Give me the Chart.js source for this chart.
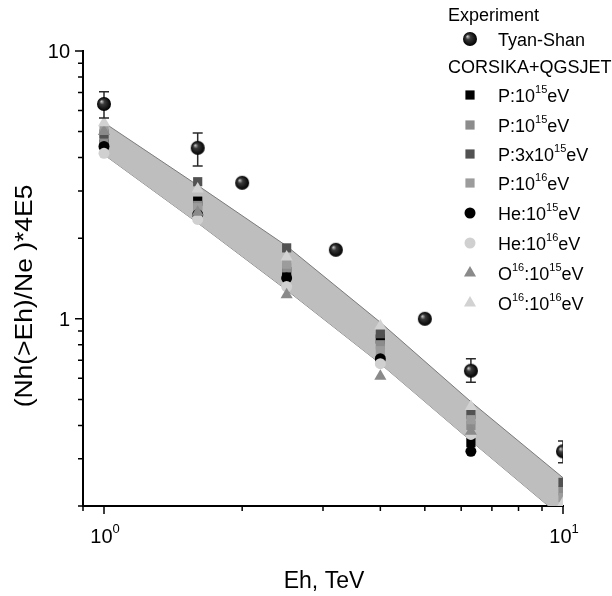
<!DOCTYPE html>
<html>
<head>
<meta charset="utf-8">
<script src="https://cdn.jsdelivr.net/npm/chart.js@4.4.1/dist/chart.umd.min.js"></script>
<style>
  html, body { margin: 0; padding: 0; background: #fff; }
  #wrap { position: relative; width: 612px; height: 596px; }
</style>
</head>
<body>
<div id="wrap"><canvas id="chart"></canvas></div>
<script>
// hadron energy thresholds of the simulation runs, TeV
const simEh = [1, 1.6, 2.5, 4, 6.3, 10];

// Tyan-Shan experiment
const expEh = [1, 1.6, 2, 3.2, 5, 6.3, 10];
const expRatio = [6.34, 4.35, 3.22, 1.81, 1.0, 0.64, 0.32];
const expErrLo = [5.62, 3.72, null, null, null, 0.58, 0.29];
const expErrHi = [7.05, 4.94, null, null, null, 0.71, 0.35];

// CORSIKA+QGSJET
const p15a = [4.5, 2.75, 1.5, 0.84, 0.345, 0.19];
const p15b = [4.7, 2.65, 1.55, 0.80, 0.40, 0.228];
const p3x15 = [4.9, 3.25, 1.84, 0.88, 0.44, 0.245];
const p16 = [5.1, 2.6, 1.6, 0.76, 0.42, 0.215];
const he15 = [4.4, 2.45, 1.42, 0.71, 0.32, 0.18];
const he16 = [4.15, 2.35, 1.32, 0.68, 0.37, 0.19];
const o15 = [5.0, 2.5, 1.23, 0.61, 0.38, 0.17];
const o16 = [5.4, 3.05, 1.70, 0.94, 0.47, 0.205];

// shaded band
const bandUpper = [5.4, 3.15, 1.87, 0.97, 0.49, 0.255];
const bandLower = [4.1, 2.28, 1.28, 0.68, 0.35, 0.18];

// axes
const xMinorTicks = [0.9, 2, 3, 4, 5, 6, 7, 8, 9];
const xMajorTicks = [1, 10];
const xMajorExp = ['0', '1'];
const yMinorTicks = [0.2, 0.3, 0.4, 0.5, 0.6, 0.7, 0.8, 0.9, 2, 3, 4, 5, 6, 7, 8, 9];
const yMajorTicks = [1, 10];
const yMajorLabels = ['1', '10'];

const FONT = '"Liberation Sans", Arial, sans-serif';

function makeSphere(r) {
  const c = document.createElement('canvas');
  const s = Math.ceil(r * 2) + 2;
  c.width = c.height = s;
  const g = c.getContext('2d');
  const cx = s / 2, cy = s / 2;
  const grad = g.createRadialGradient(cx - r * 0.4, cy - r * 0.4, 0, cx, cy, r);
  grad.addColorStop(0, '#d8d8d8');
  grad.addColorStop(0.35, '#3a3a3a');
  grad.addColorStop(1, '#000');
  g.fillStyle = grad;
  g.beginPath();
  g.arc(cx, cy, r, 0, Math.PI * 2);
  g.fill();
  return c;
}
const sphere = makeSphere(7);

function simSet(label, values, color, style, radius) {
  return {
    label,
    data: simEh.map((x, i) => ({ x, y: values[i] })),
    showLine: false,
    pointStyle: style,
    pointRadius: radius,
    pointHoverRadius: radius,
    pointBackgroundColor: color,
    pointBorderWidth: 0,
    clip: 0
  };
}

const datasets = [
  {
    label: 'Tyan-Shan',
    data: expEh.map((x, i) => ({ x, y: expRatio[i] })),
    showLine: false,
    pointStyle: sphere,
    pointRadius: 7,
    clip: 0
  },
  simSet('O16:1e16', o16, '#d2d2d2', 'triangle', 7),
  simSet('O16:1e15', o15, '#8a8a8a', 'triangle', 7),
  simSet('He:1e16', he16, '#d0d0d0', 'circle', 5.5),
  simSet('He:1e15', he15, '#000000', 'circle', 5.5),
  simSet('P:1e16', p16, '#9c9c9c', 'rect', 6.5),
  simSet('P:3e15', p3x15, '#525252', 'rect', 6.5),
  simSet('P:1e15b', p15b, '#8c8c8c', 'rect', 6.5),
  simSet('P:1e15a', p15a, '#000000', 'rect', 6.5),
  {
    label: 'upper',
    data: simEh.map((x, i) => ({ x, y: bandUpper[i] })),
    borderColor: '#7a7a7a',
    borderWidth: 1,
    backgroundColor: '#bebebe',
    pointRadius: 0,
    fill: '+1',
    tension: 0
  },
  {
    label: 'lower',
    data: simEh.map((x, i) => ({ x, y: bandLower[i] })),
    borderColor: '#7a7a7a',
    borderWidth: 1,
    pointRadius: 0,
    fill: false,
    tension: 0
  }
];

// legend rows: [text, dataset index or null for headers, y]
const legendRows = [
  ['Experiment', null, 14],
  ['Tyan-Shan', 0, 39],
  ['CORSIKA+QGSJET', null, 66],
  ['P:10^{15}eV', 8, 95],
  ['P:10^{15}eV', 7, 125],
  ['P:3x10^{15}eV', 6, 154],
  ['P:10^{16}eV', 5, 183],
  ['He:10^{15}eV', 4, 213],
  ['He:10^{16}eV', 3, 243],
  ['O^{16}:10^{15}eV', 2, 273],
  ['O^{16}:10^{16}eV', 1, 303]
];

function drawRich(ctx, text, x, baseY, size, supSize, supRise, align) {
  const parts = [];
  text.split(/(\^\{[^}]*\})/).forEach(p => {
    if (!p) return;
    if (p.startsWith('^{')) parts.push({ t: p.slice(2, -1), sup: true });
    else parts.push({ t: p, sup: false });
  });
  let total = 0;
  parts.forEach(p => {
    ctx.font = (p.sup ? supSize : size) + 'px ' + FONT;
    p.w = ctx.measureText(p.t).width;
    total += p.w;
  });
  let cx = align === 'center' ? x - total / 2 : (align === 'right' ? x - total : x);
  ctx.textAlign = 'left';
  ctx.textBaseline = 'alphabetic';
  parts.forEach(p => {
    ctx.font = (p.sup ? supSize : size) + 'px ' + FONT;
    ctx.fillText(p.t, cx, p.sup ? baseY - supRise : baseY);
    cx += p.w;
  });
}

const errorBars = {
  id: 'errorBars',
  beforeDatasetDraw(chart, args) {
    if (args.index !== 0) return;
    const { ctx, chartArea } = chart;
    const xs = chart.scales.x, ys = chart.scales.y;
    ctx.save();
    ctx.beginPath();
    ctx.rect(chartArea.left, chartArea.top, chartArea.right - chartArea.left, chartArea.bottom - chartArea.top);
    ctx.clip();
    ctx.strokeStyle = '#2a2a2a';
    ctx.lineWidth = 1.5;
    expEh.forEach((x, i) => {
      if (expErrLo[i] == null) return;
      const px = xs.getPixelForValue(x);
      const y1 = ys.getPixelForValue(expErrHi[i]);
      const y2 = ys.getPixelForValue(expErrLo[i]);
      ctx.beginPath();
      ctx.moveTo(px, y1); ctx.lineTo(px, y2);
      ctx.moveTo(px - 5, y1); ctx.lineTo(px + 5, y1);
      ctx.moveTo(px - 5, y2); ctx.lineTo(px + 5, y2);
      ctx.stroke();
    });
    ctx.restore();
  }
};

const decor = {
  id: 'decor',
  afterDraw(chart) {
    const { ctx, chartArea } = chart;
    const xs = chart.scales.x, ys = chart.scales.y;
    ctx.save();
    ctx.strokeStyle = '#000';
    ctx.fillStyle = '#000';
    ctx.lineWidth = 1.5;

    // tick marks, outward
    ctx.beginPath();
    xMinorTicks.forEach(v => { const p = xs.getPixelForValue(v); ctx.moveTo(p, chartArea.bottom); ctx.lineTo(p, chartArea.bottom + 5); });
    xMajorTicks.forEach(v => { const p = xs.getPixelForValue(v); ctx.moveTo(p, chartArea.bottom); ctx.lineTo(p, chartArea.bottom + 8); });
    yMinorTicks.forEach(v => { const p = ys.getPixelForValue(v); ctx.moveTo(chartArea.left, p); ctx.lineTo(chartArea.left - 5, p); });
    yMajorTicks.forEach(v => { const p = ys.getPixelForValue(v); ctx.moveTo(chartArea.left, p); ctx.lineTo(chartArea.left - 8, p); });
    ctx.stroke();

    // tick labels
    yMajorTicks.forEach((v, i) => {
      drawRich(ctx, yMajorLabels[i], chartArea.left - 13, ys.getPixelForValue(v) + 7, 20, 13, 9, 'right');
    });
    xMajorTicks.forEach((v, i) => {
      drawRich(ctx, '10^{' + xMajorExp[i] + '}', xs.getPixelForValue(v) + 1, chartArea.bottom + 37, 20, 13, 10, 'center');
    });

    // axis titles
    ctx.font = '23px ' + FONT;
    ctx.textAlign = 'center';
    ctx.textBaseline = 'alphabetic';
    ctx.fillText('Eh, TeV', 324, 588);
    ctx.save();
    ctx.translate(32, 296);
    ctx.rotate(-Math.PI / 2);
    ctx.scale(1.15, 1);
    ctx.font = '23px ' + FONT;
    ctx.fillText('(Nh(>Eh)/Ne )*4E5', 0, 0);
    ctx.restore();

    // legend
    legendRows.forEach(([text, dsIndex, y]) => {
      ctx.fillStyle = '#000';
      if (dsIndex === null) {
        drawRich(ctx, text, 448, y + 6.5, 18, 11, 9, 'left');
        return;
      }
      const ds = chart.data.datasets[dsIndex];
      ctx.fillStyle = ds.pointBackgroundColor || '#000';
      Chart.helpers.drawPoint(ctx, { pointStyle: ds.pointStyle, radius: ds.pointRadius, rotation: 0, borderWidth: 0 }, 470, y);
      ctx.fillStyle = '#000';
      drawRich(ctx, text, 498, y + 6.5, 18, 11, 9, 'left');
    });
    ctx.restore();
  }
};

new Chart(document.getElementById('chart'), {
  type: 'line',
  data: { datasets },
  options: {
    responsive: true,
    maintainAspectRatio: false,
    animation: false,
    layout: { padding: { top: 51, right: 49, left: 0, bottom: 0 } },
    plugins: { legend: { display: false }, tooltip: { enabled: false } },
    scales: {
      x: {
        type: 'logarithmic',
        min: 0.9,
        max: 10,
        grid: { display: false },
        border: { display: true, color: '#000', width: 2 },
        ticks: { display: false },
        afterFit: s => { s.height = 90; }
      },
      y: {
        type: 'logarithmic',
        min: 0.2,
        max: 10,
        grid: { display: false },
        border: { display: true, color: '#000', width: 2 },
        ticks: { display: false },
        afterFit: s => { s.width = 83; }
      }
    }
  },
  plugins: [errorBars, decor]
});
</script>
</body>
</html>
